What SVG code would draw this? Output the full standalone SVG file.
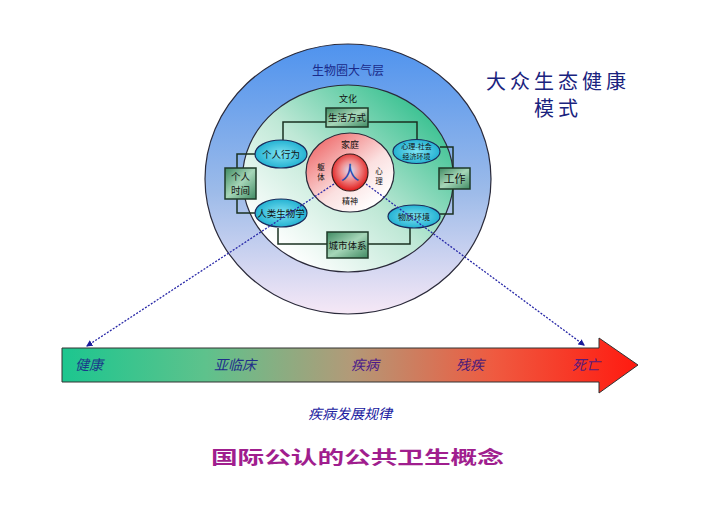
<svg xmlns="http://www.w3.org/2000/svg" width="720" height="508" viewBox="0 0 720 508">
<defs>
<linearGradient id="gOuter" x1="0" y1="0" x2="0" y2="1">
<stop offset="0" stop-color="#4f93ee"/>
<stop offset="0.55" stop-color="#9dbbe9"/>
<stop offset="1" stop-color="#f6e8f6"/>
</linearGradient>
<linearGradient id="gMid" x1="0.9" y1="0.1" x2="0.15" y2="0.85">
<stop offset="0" stop-color="#2fbe8c"/>
<stop offset="0.55" stop-color="#bfe8d6"/>
<stop offset="1" stop-color="#ffffff"/>
</linearGradient>
<linearGradient id="gInner" x1="0.1" y1="0.1" x2="0.8" y2="0.9">
<stop offset="0" stop-color="#ef6b6b"/>
<stop offset="0.6" stop-color="#fbe0e0"/>
<stop offset="1" stop-color="#ffffff"/>
</linearGradient>
<radialGradient id="gRed" cx="0.5" cy="0.45" r="0.55">
<stop offset="0" stop-color="#d6e0fb"/>
<stop offset="0.45" stop-color="#f09090"/>
<stop offset="1" stop-color="#e01a1a"/>
</radialGradient>
<linearGradient id="gBox" x1="0" y1="0" x2="1" y2="1">
<stop offset="0" stop-color="#3f8a62"/>
<stop offset="0.5" stop-color="#a6d6b8"/>
<stop offset="1" stop-color="#3f8a62"/>
</linearGradient>
<radialGradient id="gEll" cx="0.5" cy="0.5" r="0.6">
<stop offset="0" stop-color="#7fe3f2"/>
<stop offset="1" stop-color="#12a8cc"/>
</radialGradient>
<linearGradient id="gArrow" x1="62" y1="0" x2="638" y2="0" gradientUnits="userSpaceOnUse">
<stop offset="0" stop-color="#1cc68f"/>
<stop offset="0.25" stop-color="#5ec28c"/>
<stop offset="0.5" stop-color="#b29a78"/>
<stop offset="0.75" stop-color="#ef5a40"/>
<stop offset="1" stop-color="#ff1a10"/>
</linearGradient>
<marker id="dot" viewBox="0 0 6 6" refX="5" refY="3" markerWidth="5" markerHeight="5" orient="auto">
<path d="M0,0 L6,3 L0,6 z" fill="#1a1a9a"/>
</marker>
<style>
.lbl{font-family:"Noto Sans CJK SC","Noto Sans",sans-serif;fill:#111;text-anchor:middle;}
.blue{font-family:"Noto Sans CJK SC","Noto Sans",sans-serif;fill:#1a2a8a;text-anchor:middle;}
.box{fill:url(#gBox);stroke:#1e3a28;stroke-width:1.5;}
.ell{fill:url(#gEll);stroke:#1a2a5a;stroke-width:1.2;}
.conn{fill:none;stroke:#1a3020;stroke-width:1.5;}
.dotted{fill:none;stroke:#2a2aa8;stroke-width:1.3;stroke-dasharray:2,1.5;}
.prog{font-family:"Noto Sans CJK SC","Noto Sans",sans-serif;font-style:italic;font-size:14px;text-anchor:middle;}
.ttl{font-family:"Noto Sans CJK SC",sans-serif;font-size:20px;fill:#1a237e;text-anchor:middle;letter-spacing:4px;}
</style>
</defs>
<rect width="720" height="508" fill="#ffffff"/>

<g id="outer">
<ellipse cx="348" cy="179" rx="143" ry="135" fill="url(#gOuter)" stroke="#2a2a3a" stroke-width="1.2"/>
<text class="blue" x="348" y="75" font-size="12">生物圈大气层</text>
</g>
<g id="middle">
<ellipse cx="348" cy="178.5" rx="105.5" ry="93.5" fill="url(#gMid)" stroke="#2a2a3a" stroke-width="1.2"/>
<text class="lbl" x="348" y="102" font-size="9">文化</text>
</g>

<g id="connectors">
<path class="conn" d="M326,122 H283 V140"/>
<path class="conn" d="M368,122 H417 V140"/>
<path class="conn" d="M327,244 H278 V228"/>
<path class="conn" d="M368,244 H410 V228"/>
<path class="conn" d="M255,154 H237 V168"/>
<path class="conn" d="M237,199 V213 H255"/>
<path class="conn" d="M440,147 H453 V168"/>
<path class="conn" d="M453,189 V214 H440"/>
</g>

<g id="inner">
<ellipse cx="350" cy="172.5" rx="44" ry="39.5" fill="url(#gInner)" stroke="#2a2a3a" stroke-width="1.2"/>
<text class="lbl" x="350" y="148" font-size="9">家庭</text>
<text class="lbl" x="321" y="170" font-size="7.5">躯</text>
<text class="lbl" x="321" y="180" font-size="7.5">体</text>
<text class="lbl" x="379" y="174" font-size="7.5">心</text>
<text class="lbl" x="379" y="184" font-size="7.5">理</text>
<text class="lbl" x="350" y="204" font-size="8">精神</text>
</g>
<g id="person">
<ellipse cx="350" cy="172.5" rx="18" ry="18.5" fill="url(#gRed)" stroke="#3a1a1a" stroke-width="1.2"/>
<text x="350" y="179.5" font-size="19" text-anchor="middle" fill="#2a4ab0" font-family="'Noto Sans CJK SC',sans-serif">人</text>
</g>

<g id="lifestyle"><rect class="box" x="326" y="108" width="42" height="19"/><text class="lbl" x="347" y="121" font-size="9.5">生活方式</text></g>
<g id="urban"><rect class="box" x="327" y="232" width="41" height="26"/><text class="lbl" x="347.5" y="248.5" font-size="9.5">城市体系</text></g>
<g id="personaltime"><rect class="box" x="225" y="168" width="31" height="31"/><text class="lbl" x="240.5" y="180" font-size="9.5">个人</text><text class="lbl" x="240.5" y="194" font-size="9.5">时间</text></g>
<g id="work"><rect class="box" x="439" y="168" width="31" height="21"/><text class="lbl" x="454.5" y="182.5" font-size="11">工作</text></g>

<g id="behavior"><ellipse class="ell" cx="281" cy="154" rx="26" ry="14"/><text class="lbl" x="281" y="157.5" font-size="9.5">个人行为</text></g>
<g id="psychosocial"><ellipse class="ell" cx="416.5" cy="151.5" rx="23.5" ry="12"/><text class="lbl" x="416.5" y="149" font-size="7">心理-社会</text><text class="lbl" x="416.5" y="158.5" font-size="7">经济环境</text></g>
<g id="biology"><ellipse class="ell" cx="281" cy="213" rx="26" ry="14"/><text class="lbl" x="281" y="216.5" font-size="9.5">人类生物学</text></g>
<g id="physical"><ellipse class="ell" cx="414" cy="216.5" rx="26" ry="11.5"/><text class="lbl" x="414" y="219.5" font-size="8">物质环境</text></g>

<g id="title">
<text class="ttl" x="558" y="89">大众生态健康</text>
<text class="ttl" x="558" y="116">模式</text>
</g>

<g id="progression">
<path d="M62,348 H599 V338 L638,365 L599,393 V382 H62 Z" fill="url(#gArrow)" stroke="#333" stroke-width="1"/>
<text class="prog" x="89" y="370" fill="#1a3a8a">健康</text>
<text class="prog" x="235" y="370" fill="#1f2f8a">亚临床</text>
<text class="prog" x="365" y="370" fill="#4a1a8a">疾病</text>
<text class="prog" x="470" y="370" fill="#4a1a7a">残疾</text>
<text class="prog" x="586" y="370" fill="#5a1a7a">死亡</text>
</g>

<g id="links">
<path class="dotted" d="M334,184 L87,346" marker-end="url(#dot)"/>
<path class="dotted" d="M366,184 L584,345" marker-end="url(#dot)"/>
</g>

<g id="captions">
<text x="350" y="419" font-size="14" font-style="italic" text-anchor="middle" fill="#2020a0" font-family="'Noto Sans CJK SC',sans-serif">疾病发展规律</text>
<text transform="translate(211,464) scale(1.48,1)" x="0" y="0" font-size="18" font-weight="bold" fill="#a01e8e" font-family="'Noto Sans CJK SC',sans-serif">国际公认的公共卫生概念</text>
</g>
</svg>
